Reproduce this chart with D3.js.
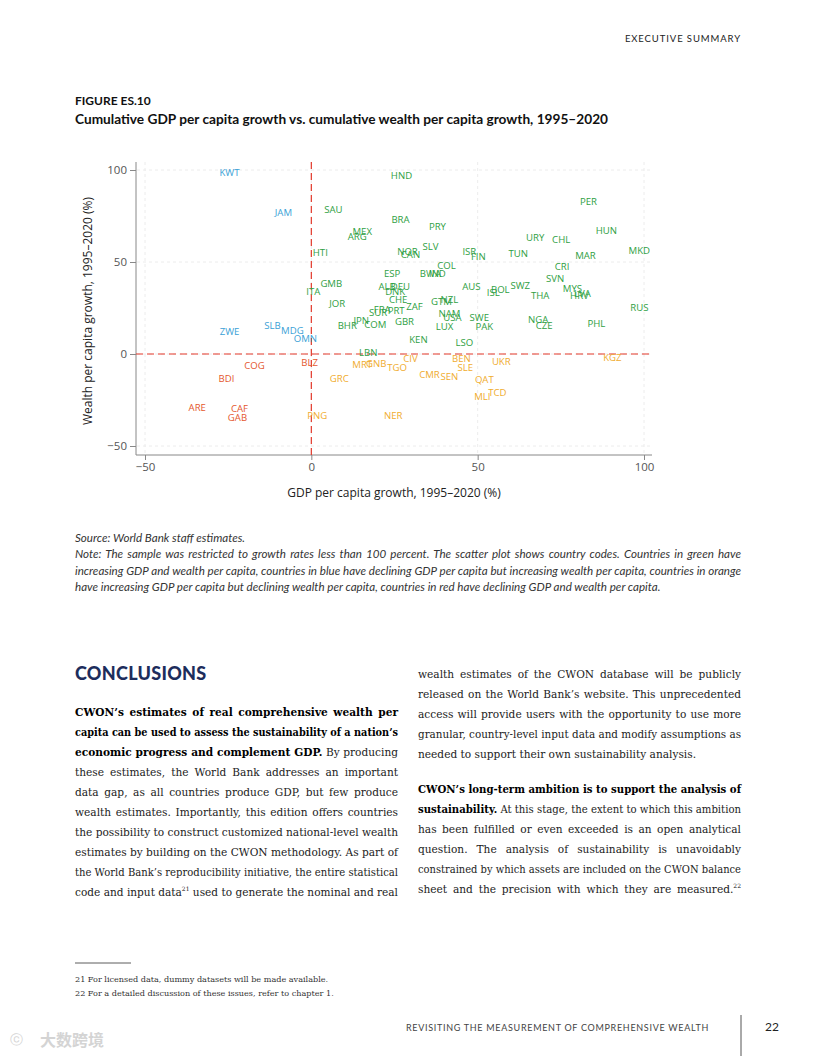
<!DOCTYPE html>
<html><head><meta charset="utf-8">
<script src="https://cdn.jsdelivr.net/npm/d3@7"></script>
<style>
html,body{margin:0;padding:0;background:#fff;}
svg{display:block;}
</style></head>
<body>
<svg id="page" width="816" height="1056"></svg>
<script>
// ---- data ----
const codes = ["KWT","JAM","ZWE","SLB","MDG","OMN",
 "HND","SAU","BRA","PRY","MEX","ARG","HTI","NOR","CAN","SLV","ISR","FIN","TUN","URY","CHL","PER","HUN","MAR","MKD",
 "COL","CRI","ESP","BWA","IND","GMB","ITA","SVN","AUS","SWZ","BOL","ISL","THA","MYS","HRV","LVA",
 "ALB","DEU","DNK","CHE","ZAF","GTM","NZL","JOR","SUR","FRA","PRT","NAM","USA","SWE","PAK","NGA","CZE","PHL","RUS",
 "JPN","COM","BHR","GBR","LUX","KEN","LSO","LBN",
 "MRT","GNB","TGO","CIV","GRC","BEN","SLE","CMR","SEN","UKR","QAT","TCD","MLI","KGZ","PNG","NER",
 "BLZ","COG","BDI","ARE","CAF","GAB"];
const gdpGrowth = [-24.6,-8.4,-24.6,-11.7,-5.7,-1.8,
 27.1,6.6,26.8,37.9,15.3,13.8,2.7,28.9,29.8,35.8,47.5,50.2,62.2,67.3,75.1,83.3,88.7,82.4,98.6,
 40.6,75.4,24.3,35.8,37.9,6.0,0.6,73.3,48.1,62.8,56.8,54.7,68.8,78.5,80.6,81.5,
 22.8,26.8,25.2,26.1,31.0,39.1,41.5,7.8,20.1,21.3,25.5,41.5,42.4,50.5,52.0,68.2,70.0,85.7,98.6,
 15.0,19.2,10.8,28.0,40.0,32.2,46.0,17.1,
 15.3,19.5,25.8,29.8,8.4,45.1,46.3,35.5,41.5,57.1,52.0,55.9,51.4,90.5,1.8,24.6,
 -0.5,-17.1,-25.5,-34.3,-21.6,-22.2];
const wealthGrowth = [98.4,76.6,12.0,15.2,12.5,8.2,
 96.7,78.3,72.8,69.0,66.3,63.6,54.9,55.4,53.8,58.2,55.4,52.7,54.3,63.0,62.0,82.6,66.8,53.3,56.0,
 47.8,47.3,43.5,43.5,43.5,38.0,33.7,40.8,36.4,37.0,34.8,33.2,31.5,35.3,31.5,32.6,
 36.4,36.4,33.7,29.3,25.5,28.3,29.3,27.2,22.3,23.9,23.4,21.7,19.6,19.6,14.7,18.5,15.2,16.3,25.0,
 17.9,15.8,15.2,17.4,14.7,7.6,6.0,0.5,
 -6.0,-5.4,-7.6,-2.7,-13.6,-2.7,-7.6,-11.4,-12.5,-4.3,-14.1,-21.2,-23.4,-2.2,-33.7,-33.7,
 -4.9,-6.5,-13.6,-29.3,-29.9,-34.8];
const xTicks = [-50,0,50,100];
const yTicks = [-50,0,50,100];

const points = codes.map((c,i)=>({code:c,x:gdpGrowth[i],y:wealthGrowth[i]}));
const colorFor = d => d.x>=0 && d.y>=0 ? "#2fa043" : d.x<0 && d.y>=0 ? "#3a9fd6" : d.x>=0 ? "#f0ac2e" : "#e4572e";

const svg = d3.select("#page");
const sans = "Lato, 'Open Sans', sans-serif";
const serif = "'DejaVu Serif', serif";

function justify(t, width){
  const node = t.node();
  const w = node.getComputedTextLength();
  const str = node.textContent;
  const n = (str.match(/ /g)||[]).length;
  if(w > width){ t.attr("textLength",width).attr("lengthAdjust","spacingAndGlyphs"); }
  else if(n>0) t.attr("word-spacing", ((width-w)/n).toFixed(3));
}

// header
svg.append("text").attr("x",741).attr("y",42).attr("text-anchor","end")
 .attr("font-family",sans).attr("font-size",9.5).attr("letter-spacing",0.9).attr("fill","#222").text("EXECUTIVE SUMMARY");

// figure title
svg.append("text").attr("x",75).attr("y",105).attr("font-family",sans).attr("font-weight","bold")
 .attr("font-size",12).attr("fill","#111").text("FIGURE ES.10");
svg.append("text").attr("x",75).attr("y",124).attr("font-family",sans).attr("font-weight","bold")
 .attr("font-size",13.6).attr("fill","#111").attr("textLength",533).attr("lengthAdjust","spacingAndGlyphs")
 .text("Cumulative GDP per capita growth vs. cumulative wealth per capita growth, 1995–2020");

// chart
const x = d3.scaleLinear().domain([-50,100]).range([145,644]);
const y = d3.scaleLinear().domain([-50,100]).range([446,170]);
const pL=136, pR=652, pT=162, pB=455;
const chartFont = "'Open Sans', sans-serif";

const g = svg.append("g");
g.selectAll(".gy").data(yTicks).join("line").attr("x1",pL+1).attr("x2",pR)
 .attr("y1",d=>y(d)).attr("y2",d=>y(d)).attr("stroke","#ececec").attr("stroke-dasharray","3,3").attr("stroke-width",1);
g.selectAll(".gx").data(xTicks).join("line").attr("y1",pT).attr("y2",pB-1)
 .attr("x1",d=>x(d)).attr("x2",d=>x(d)).attr("stroke","#ececec").attr("stroke-dasharray","3,3").attr("stroke-width",1);

const yAxis = d3.axisLeft(y).tickValues(yTicks).tickSize(6).tickPadding(3);
const xAxis = d3.axisBottom(x).tickValues(xTicks).tickSize(5).tickPadding(3);
const ya = svg.append("g").attr("transform",`translate(${pL},0)`).call(yAxis);
const xa = svg.append("g").attr("transform",`translate(0,${pB})`).call(xAxis);
[ya,xa].forEach(a=>{
  a.select(".domain").remove();
  a.selectAll("line").attr("stroke","#888");
  a.selectAll("text").attr("font-family",chartFont).attr("font-size",11.5).attr("fill","#555");
});
svg.append("line").attr("x1",pL).attr("x2",pL).attr("y1",pT).attr("y2",pB).attr("stroke","#888");
svg.append("line").attr("x1",pL).attr("x2",pR).attr("y1",pB).attr("y2",pB).attr("stroke","#888");

svg.append("line").attr("x1",pL).attr("x2",pR).attr("y1",y(0)).attr("y2",y(0))
 .attr("stroke","#e3392b").attr("stroke-width",1.2).attr("stroke-dasharray","7,4");
svg.append("line").attr("x1",x(0)).attr("x2",x(0)).attr("y1",pT).attr("y2",pB)
 .attr("stroke","#e3392b").attr("stroke-width",1.2).attr("stroke-dasharray","7,4");

svg.append("g").selectAll("text").data(points).join("text")
 .attr("x",d=>x(d.x)).attr("y",d=>y(d.y)).attr("dy","0.35em").attr("text-anchor","middle")
 .attr("font-family",chartFont).attr("font-size",9.6).attr("fill",colorFor).text(d=>d.code);

svg.append("text").attr("x",394).attr("y",497).attr("text-anchor","middle").attr("font-family",chartFont)
 .attr("font-size",12).attr("fill","#222").text("GDP per capita growth, 1995–2020 (%)");
svg.append("text").attr("transform","translate(92,311) rotate(-90)").attr("text-anchor","middle").attr("font-family",chartFont)
 .attr("font-size",12).attr("fill","#222").text("Wealth per capita growth, 1995–2020 (%)");

// source & note
const noteLines = [
 ["Source: World Bank staff estimates.", false],
 ["Note: The sample was restricted to growth rates less than 100 percent. The scatter plot shows country codes. Countries in green have", true],
 ["increasing GDP and wealth per capita, countries in blue have declining GDP per capita but increasing wealth per capita, countries in orange", true],
 ["have increasing GDP per capita but declining wealth per capita, countries in red have declining GDP and wealth per capita.", false]
];
noteLines.forEach((l,i)=>{
  const t = svg.append("text").attr("x",75).attr("y",542+i*16.3).attr("font-family",sans).attr("font-style","italic")
   .attr("font-size",11.6).attr("fill","#333").text(l[0]);
  if(l[1]) justify(t,666);
});

// conclusions heading
svg.append("text").attr("x",75).attr("y",680).attr("font-family",sans).attr("font-weight","900")
 .attr("font-size",18).attr("fill","#1d2d5c").attr("letter-spacing",0.3).text("CONCLUSIONS");

// body text
const bodySize = 10.6;
function bodyLine(xp, yp, parts, just){
  const t = svg.append("text").attr("x",xp).attr("y",yp).attr("font-family",serif).attr("font-size",bodySize).attr("fill","#222");
  parts.forEach(p=>{
    const s = t.append("tspan").text(p.t);
    if(p.b) s.attr("font-weight","bold").attr("fill","#000");
    if(p.sup){ s.attr("font-size",6).attr("dy",-5); }
    if(p.after){ s.attr("dy",5); }
  });
  if(just) justify(t,323);
}
const leftLines = [
 [[{t:"CWON’s estimates of real comprehensive wealth per",b:1}],1],
 [[{t:"capita can be used to assess the sustainability of a nation’s",b:1}],1],
 [[{t:"economic progress and complement GDP.",b:1},{t:" By producing"}],1],
 [[{t:"these estimates, the World Bank addresses an important"}],1],
 [[{t:"data gap, as all countries produce GDP, but few produce"}],1],
 [[{t:"wealth estimates. Importantly, this edition offers countries"}],1],
 [[{t:"the possibility to construct customized national-level wealth"}],1],
 [[{t:"estimates by building on the CWON methodology. As part of"}],1],
 [[{t:"the World Bank’s reproducibility initiative, the entire statistical"}],1],
 [[{t:"code and input data"},{t:"21",sup:1},{t:" used to generate the nominal and real",after:1}],1]
];
leftLines.forEach((l,i)=>bodyLine(75,716+i*20,l[0],l[1]));
const rightLines = [
 [[{t:"wealth estimates of the CWON database will be publicly"}],1,678],
 [[{t:"released on the World Bank’s website. This unprecedented"}],1,698],
 [[{t:"access will provide users with the opportunity to use more"}],1,718],
 [[{t:"granular, country-level input data and modify assumptions as"}],1,738],
 [[{t:"needed to support their own sustainability analysis."}],0,758],
 [[{t:"CWON’s long-term ambition is to support the analysis of",b:1}],1,793],
 [[{t:"sustainability.",b:1},{t:" At this stage, the extent to which this ambition"}],1,813],
 [[{t:"has been fulfilled or even exceeded is an open analytical"}],1,833],
 [[{t:"question. The analysis of sustainability is unavoidably"}],1,853],
 [[{t:"constrained by which assets are included on the CWON balance"}],1,873],
 [[{t:"sheet and the precision with which they are measured."},{t:"22",sup:1}],1,893]
];
rightLines.forEach(l=>bodyLine(418,l[2],l[0],l[1]));

// footnotes
svg.append("line").attr("x1",75).attr("x2",131).attr("y1",963).attr("y2",963).attr("stroke","#333").attr("stroke-width",0.8);
["21  For licensed data, dummy datasets will be made available.",
 "22  For a detailed discussion of these issues, refer to chapter 1."].forEach((s,i)=>{
  svg.append("text").attr("x",75).attr("y",982+i*14).attr("font-family",serif).attr("font-size",8.1).attr("fill","#333").text(s);
});

// footer
svg.append("text").attr("x",709).attr("y",1031).attr("text-anchor","end").attr("font-family",sans)
 .attr("font-size",9).attr("letter-spacing",0.7).attr("fill","#444").text("REVISITING THE MEASUREMENT OF COMPREHENSIVE WEALTH");
svg.append("line").attr("x1",741).attr("x2",741).attr("y1",1015).attr("y2",1056).attr("stroke","#555").attr("stroke-width",1);
svg.append("text").attr("x",772).attr("y",1031).attr("text-anchor","middle").attr("font-family",sans)
 .attr("font-size",12).attr("fill","#222").text("22");

// watermark
svg.append("text").attr("x",40).attr("y",1046).attr("font-family","'Noto Sans CJK SC', sans-serif")
 .attr("font-size",16).attr("fill","#d4d4d4").attr("font-weight","bold").text("大数跨境");
svg.append("text").attr("x",10).attr("y",1044).attr("font-family",sans)
 .attr("font-size",13).attr("fill","#d4d4d4").text("ⓒ");
</script>
</body></html>
